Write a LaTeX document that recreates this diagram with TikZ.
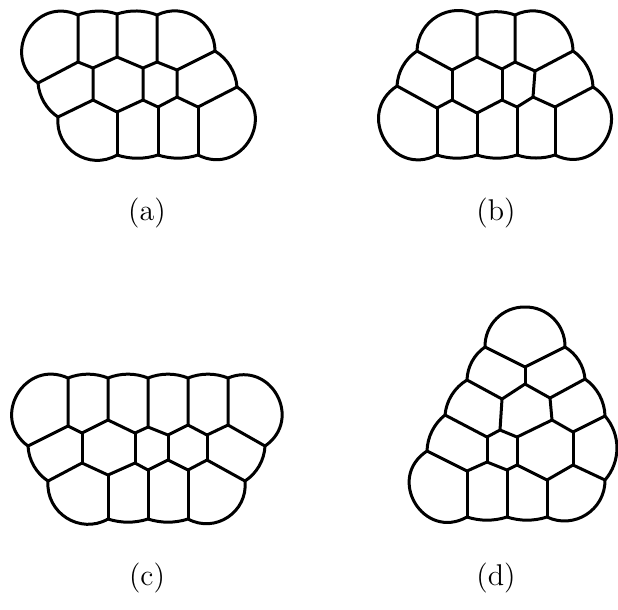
\documentclass[tikz,border=0pt]{standalone}
\usepackage{tikz}
\usetikzlibrary{topaths}

\begin{document}
\begin{tikzpicture}[x=0.4pt,y=-0.4pt,
      wall/.style={line width=1.2pt,line join=round,line cap=round},
      rim/.code={\pgfmathsetmacro\rimloose{(4/3)*tan(#1/2)/(2*sin(#1))/0.3915}%
                 \edef\rimnext{\noexpand\tikzset{bend left=#1,looseness=\rimloose}}\rimnext},
      lbl/.style={font=\large,inner sep=0pt}]
    \useasboundingbox (0,0) rectangle (618,609);
    % (a)
    \coordinate (aT1) at (78,15);  \coordinate (aT2) at (117,14); \coordinate (aT3) at (157,15);
    \coordinate (aL1) at (38,83);  \coordinate (aR1) at (215,51);
    \coordinate (aP1) at (78,62);  \coordinate (aP2) at (93,68);  \coordinate (aP3) at (117,57);
    \coordinate (aP4) at (143,68); \coordinate (aP5) at (157,62); \coordinate (aP6) at (177,70);
    \coordinate (aL2) at (58,117); \coordinate (aR2) at (237,87);
    \coordinate (aQ1) at (93,100); \coordinate (aQ2) at (117,112); \coordinate (aQ3) at (143,100);
    \coordinate (aQ4) at (158,107); \coordinate (aQ5) at (177,97); \coordinate (aQ6) at (198,107);
    \coordinate (aB1) at (117,155); \coordinate (aB2) at (158,155); \coordinate (aB3) at (198,155);
    \draw[wall] (aT1) to[rim=20] (aT2) to[rim=20] (aT3) to[rim=58] (aR1) to[rim=27] (aR2)
      to[rim=87] (aB3) to[rim=18] (aB2) to[rim=18] (aB1) to[rim=63] (aL2) to[rim=26] (aL1)
      to[rim=84] (aT1);
    \draw[wall] (aT1)--(aP1)--(aP2)--(aP3)--(aT2);
    \draw[wall] (aL1)--(aP1);
    \draw[wall] (aP3)--(aP4)--(aP5)--(aT3);
    \draw[wall] (aP5)--(aP6)--(aR1);
    \draw[wall] (aP2)--(aQ1)--(aL2);
    \draw[wall] (aQ1)--(aQ2)--(aQ3)--(aP4);
    \draw[wall] (aQ3)--(aQ4)--(aQ5)--(aP6);
    \draw[wall] (aQ5)--(aQ6)--(aR2);
    \draw[wall] (aQ2)--(aB1);
    \draw[wall] (aQ4)--(aB2);
    \draw[wall] (aQ6)--(aB3);
    % (b)
    \coordinate (bU1) at (477,15); \coordinate (bU2) at (515,15);
    \coordinate (bV1) at (417,51); \coordinate (bV2) at (477,57); \coordinate (bV3) at (452,70);
    \coordinate (bV4) at (515,62); \coordinate (bV5) at (502,69); \coordinate (bV6) at (535,71);
    \coordinate (bV7) at (573,51);
    \coordinate (bW1) at (397,86); \coordinate (bW2) at (437,108); \coordinate (bW3) at (452,100);
    \coordinate (bW4) at (477,113); \coordinate (bW5) at (502,100); \coordinate (bW6) at (517,107);
    \coordinate (bW7) at (533,97); \coordinate (bW8) at (555,107); \coordinate (bW9) at (593,87);
    \coordinate (bX1) at (437,155); \coordinate (bX2) at (477,155); \coordinate (bX3) at (517,155);
    \coordinate (bX4) at (555,155);
    \draw[wall] (bU1) to[rim=20] (bU2) to[rim=58] (bV7) to[rim=27] (bW9) to[rim=87] (bX4)
      to[rim=18] (bX3) to[rim=18] (bX2) to[rim=18] (bX1) to[rim=87] (bW1) to[rim=27] (bV1)
      to[rim=58] (bU1);
    \draw[wall] (bV1)--(bV3)--(bV2)--(bU1);
    \draw[wall] (bV2)--(bV5)--(bV4)--(bU2);
    \draw[wall] (bV4)--(bV6)--(bV7);
    \draw[wall] (bV3)--(bW3);
    \draw[wall] (bV5)--(bW5);
    \draw[wall] (bV6)--(bW7);
    \draw[wall] (bW1)--(bW2)--(bW3)--(bW4)--(bW5)--(bW6)--(bW7)--(bW8)--(bW9);
    \draw[wall] (bW2)--(bX1);
    \draw[wall] (bW4)--(bX2);
    \draw[wall] (bW6)--(bX3);
    \draw[wall] (bW8)--(bX4);
    % (c)
    \coordinate (cC1) at (68,378); \coordinate (cC2) at (108,378); \coordinate (cC3) at (148,378);
    \coordinate (cC4) at (188,378); \coordinate (cC5) at (228,378);
    \coordinate (cL1) at (28,446); \coordinate (cR1) at (265,446);
    \coordinate (cD1) at (68,426); \coordinate (cD2) at (82,433); \coordinate (cD3) at (108,420);
    \coordinate (cD4) at (135,433); \coordinate (cD5) at (148,427); \coordinate (cD6) at (168,435);
    \coordinate (cD7) at (188,425); \coordinate (cD8) at (207,435); \coordinate (cD9) at (228,425);
    \coordinate (cE1) at (48,481); \coordinate (cE2) at (82,463); \coordinate (cE3) at (108,475);
    \coordinate (cE4) at (135,463); \coordinate (cE5) at (148,470); \coordinate (cE6) at (168,460);
    \coordinate (cE7) at (188,470); \coordinate (cE8) at (207,460); \coordinate (cE9) at (245,481);
    \coordinate (cF1) at (108,519); \coordinate (cF2) at (148,519); \coordinate (cF3) at (188,519);
    \draw[wall] (cC1) to[rim=22] (cC2) to[rim=22] (cC3) to[rim=22] (cC4) to[rim=22] (cC5)
      to[rim=84] (cR1) to[rim=27] (cE9) to[rim=62] (cF3) to[rim=18] (cF2) to[rim=18] (cF1)
      to[rim=62] (cE1) to[rim=27] (cL1) to[rim=84] (cC1);
    \draw[wall] (cL1)--(cD1)--(cC1);
    \draw[wall] (cD1)--(cD2)--(cD3)--(cC2);
    \draw[wall] (cD3)--(cD4)--(cD5)--(cC3);
    \draw[wall] (cD5)--(cD6)--(cD7)--(cC4);
    \draw[wall] (cD7)--(cD8)--(cD9)--(cC5);
    \draw[wall] (cD9)--(cR1);
    \draw[wall] (cD2)--(cE2);
    \draw[wall] (cD4)--(cE4);
    \draw[wall] (cD6)--(cE6);
    \draw[wall] (cD8)--(cE8);
    \draw[wall] (cE1)--(cE2)--(cE3)--(cE4)--(cE5)--(cE6)--(cE7)--(cE8)--(cE9);
    \draw[wall] (cE3)--(cF1);
    \draw[wall] (cE5)--(cF2);
    \draw[wall] (cE7)--(cF3);
    % (d)
    \coordinate (dTL) at (485,347); \coordinate (dTop) at (525,307); \coordinate (dTR) at (565,347);
    \coordinate (dK1) at (525,367); \coordinate (dK2) at (525,384);
    \coordinate (dL2) at (467,380); \coordinate (dM1) at (502,399); \coordinate (dM2) at (550,398);
    \coordinate (dR1) at (585,379);
    \coordinate (dL3) at (445,415); \coordinate (dN1) at (487,437); \coordinate (dN2) at (500,430);
    \coordinate (dN3) at (517,437); \coordinate (dN4) at (552,420); \coordinate (dN5) at (573,432);
    \coordinate (dR2) at (605,416);
    \coordinate (dL4) at (427,451); \coordinate (dO1) at (467,471); \coordinate (dO2) at (487,462);
    \coordinate (dO3) at (507,470); \coordinate (dO4) at (517,465); \coordinate (dO5) at (547,480);
    \coordinate (dO6) at (573,465); \coordinate (dR3) at (605,480);
    \coordinate (dX1) at (467,517); \coordinate (dX2) at (507,517); \coordinate (dX3) at (547,517);
    \draw[wall] (dTL) to[rim=46] (dTop) to[rim=46] (dTR) to[rim=27] (dR1) to[rim=27] (dR2)
      to[rim=41] (dR3) to[rim=58] (dX3) to[rim=18] (dX2) to[rim=18] (dX1) to[rim=88] (dL4)
      to[rim=25] (dL3) to[rim=27] (dL2) to[rim=27] (dTL);
    \draw[wall] (dTL)--(dK1)--(dTR);
    \draw[wall] (dK1)--(dK2);
    \draw[wall] (dL2)--(dM1)--(dK2)--(dM2)--(dR1);
    \draw[wall] (dM1)--(dN2);
    \draw[wall] (dM2)--(dN4);
    \draw[wall] (dL3)--(dN1)--(dN2)--(dN3)--(dN4)--(dN5)--(dR2);
    \draw[wall] (dN1)--(dO2);
    \draw[wall] (dN3)--(dO4);
    \draw[wall] (dN5)--(dO6);
    \draw[wall] (dL4)--(dO1)--(dO2)--(dO3)--(dO4)--(dO5)--(dO6)--(dR3);
    \draw[wall] (dO1)--(dX1);
    \draw[wall] (dO3)--(dX2);
    \draw[wall] (dO5)--(dX3);
    % captions
    \node[lbl] (capa) at (147,213) {(a)};
    \node[lbl] (capb) at (496,213) {(b)};
    \node[lbl] (capc) at (147,578) {(c)};
    \node[lbl] (capd) at (496,578) {(d)};
  \end{tikzpicture}
\end{document}
